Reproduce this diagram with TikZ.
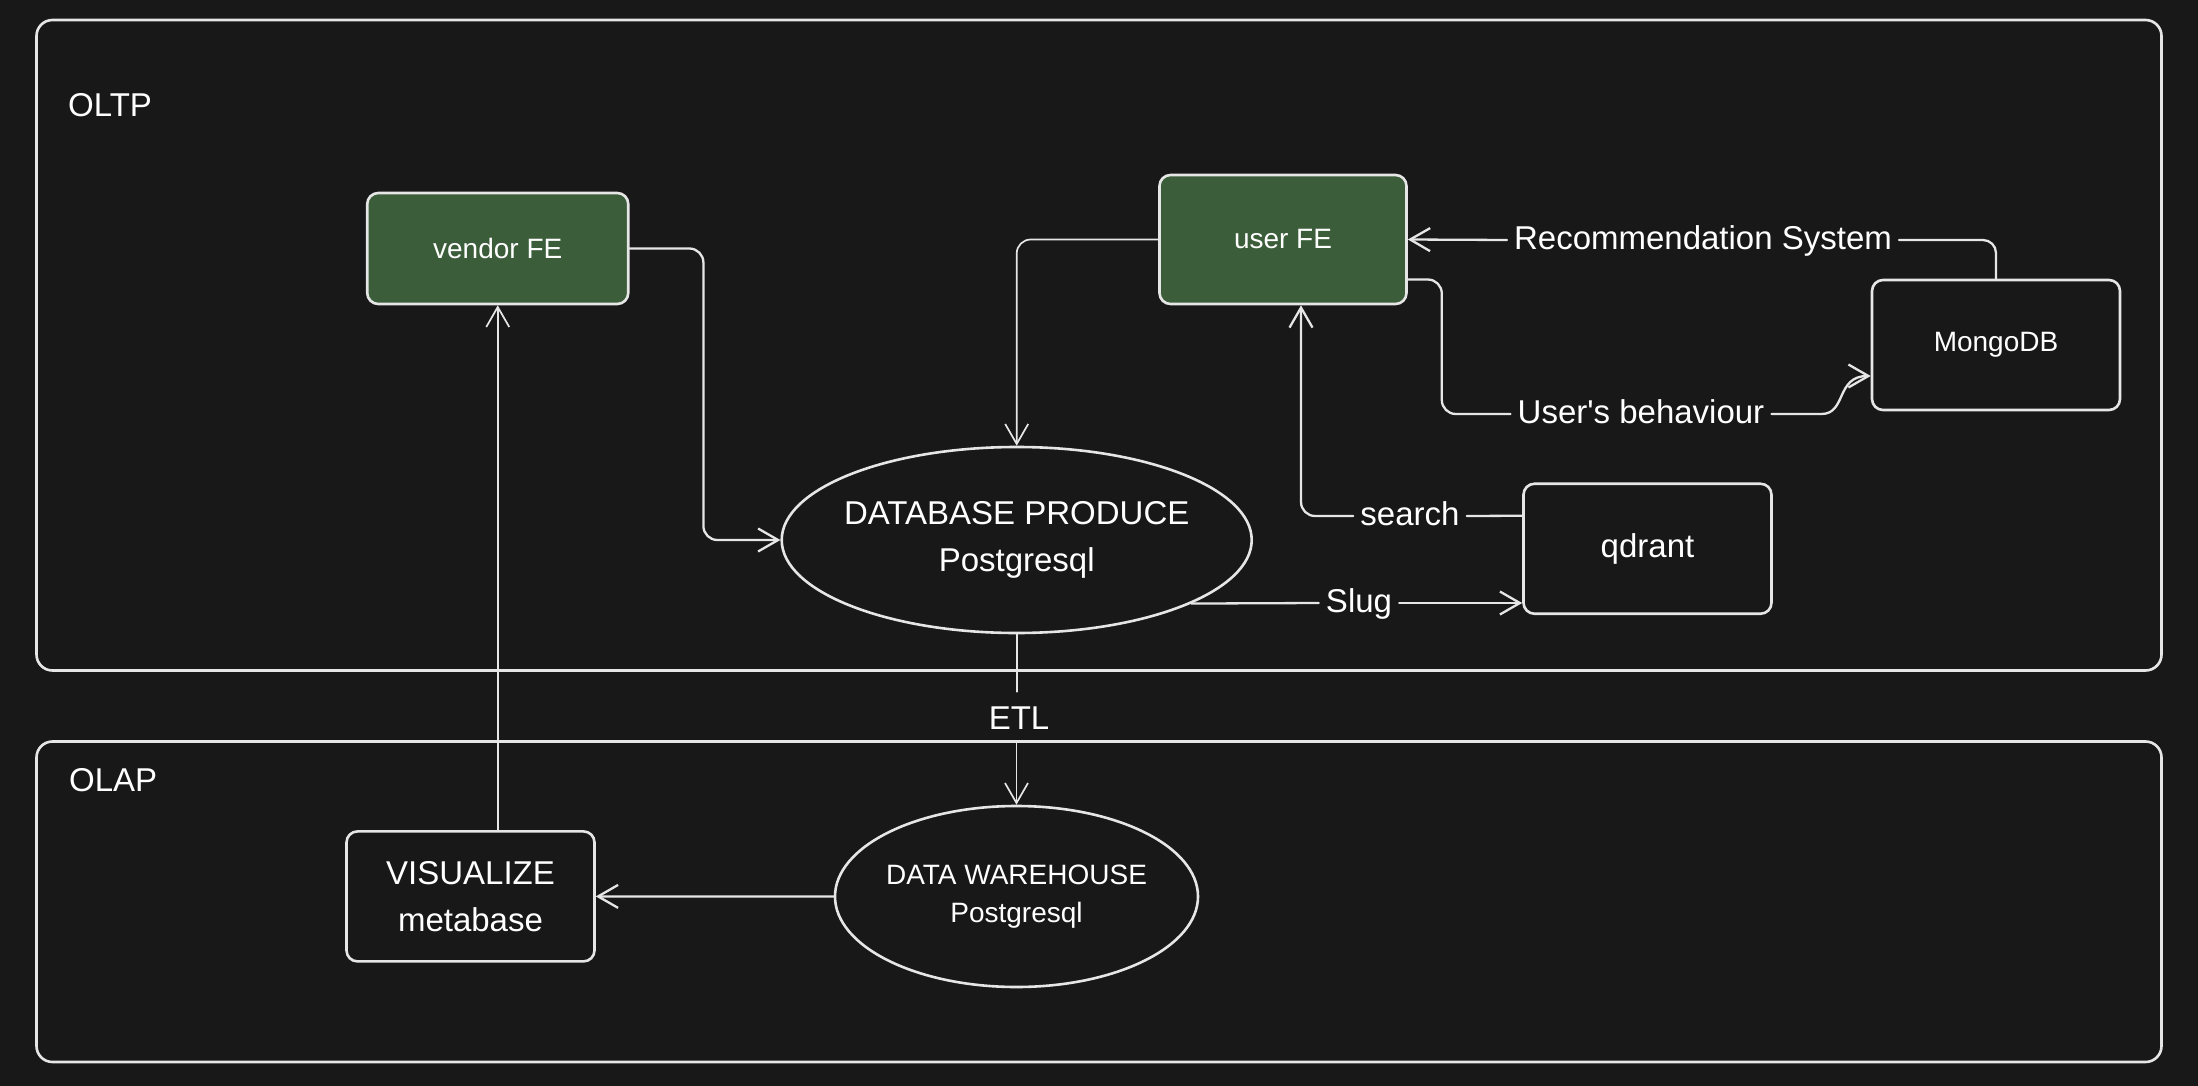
\documentclass[tikz,border=0pt]{standalone}
\usepackage{fontspec}
\setmainfont{Liberation Sans}
\usetikzlibrary{shapes.geometric,arrows.meta}
\definecolor{bgc}{HTML}{181818}
\definecolor{ink}{HTML}{E6E6E6}
\definecolor{grn}{RGB}{59,93,57}
\begin{document}
\begin{tikzpicture}[x=1pt,y=-1pt,
  big/.style={font=\fontsize{33}{47}\selectfont},
  small/.style={font=\fontsize{28}{38}\selectfont},
  frame/.style={draw=ink, line width=2.6pt, rounded corners=16pt, rectangle, inner sep=0pt},
  box/.style={draw=ink, line width=2.6pt, rounded corners=11pt, rectangle, inner sep=0pt, text=white, minimum height=130pt, minimum width=248pt},
  fe/.style={box, fill=grn},
  oval/.style={draw=ink, line width=2.6pt, ellipse, inner sep=0pt},
  lbl/.style={big, text=white, inner xsep=7pt, inner ysep=2pt, text height=18pt, text depth=0pt},
  line/.style={draw=ink, line width=2.3pt, line cap=round, line join=round},
  thin/.style={line width=1.7pt},
  arr/.style={line, -{Straight Barb[length=20pt,width=23pt]}},
]
\useasboundingbox (0,0) rectangle (2198,1086);
\fill[bgc] (0,0) rectangle (2198,1086);

% frames
\node[frame, minimum width=2125pt, minimum height=650.5pt] (oltp) at (1099,345.25) {};
\node[frame, minimum width=2125pt, minimum height=320.5pt] (olap) at (1099,901.75) {};
\node[big, text=white, anchor=base west, inner sep=0pt] (oltpT) at (68,117) {OLTP};
\node[big, text=white, anchor=base west, inner sep=0pt] (olapT) at (69,791.7) {OLAP};

% nodes
\node[fe, small, minimum width=261pt, minimum height=111pt] (vendor) at (497.75,248.5) {vendor FE};
\node[fe, small, minimum width=247pt, minimum height=129pt] (user) at (1283,239.5) {user FE};
\node[box, small] (mongo) at (1996,345) {MongoDB};
\node[box, big] (qdrant) at (1647.5,548.75) {qdrant};
\node[box, big, align=center] (vis) at (470.5,896.4) {VISUALIZE\\metabase};
\node[oval, minimum width=470pt, minimum height=186pt,
  label={[big, text=white, align=center]center:{DATABASE PRODUCE\\Postgresql}}] (db) at (1016.7,540) {};
\node[oval, minimum width=363pt, minimum height=181pt,
  label={[small, text=white, align=center]center:{DATA WAREHOUSE\\Postgresql}}] (dw) at (1016.5,896.5) {};

% connector labels
\node[lbl] (rec) at (1703,240) {Recommendation System};
\node[lbl] (beh) at (1641,414) {User\textquotesingle{}s behaviour};
\node[lbl] (search) at (1410,516) {search};
\node[lbl] (slug) at (1359,603) {Slug};
\node[big, text=white, inner xsep=4pt, inner ysep=13pt, text height=24pt, text depth=0pt] (etl) at (1019,717) {ETL};

% connectors
\draw[arr, rounded corners=14pt] (vendor.east) -| ([xshift=-77pt]db.west) -- (db.west);
\draw[arr, thin, rounded corners=14pt] (user.west) -| (db.north);
\draw[line, rounded corners=13pt] (mongo.north) |- (rec.east);
\draw[arr] (rec.west) -- (user.east);
\draw[line, rounded corners=14pt] ([yshift=-40pt]user.east) -- ++(34,0) |- (beh.west);
\draw[arr] (beh.east) -- ++(50,0) .. controls +(25,0) and +(-35,0) .. ([yshift=-31pt]mongo.west);
\draw[line] ([yshift=33pt]qdrant.west) -- (search.east);
\draw[arr, rounded corners=14pt] (search.west) -| ([xshift=18pt]user.south);
\draw[line] (db.-20) -- (slug.west);
\draw[arr] (slug.east) -- (slug.east -| qdrant.west);
\draw[line, thin] (db.south) -- (db.south |- etl.north);
\draw[arr, thin] (dw.north |- etl.south) -- (dw.north);
\draw[arr] (dw.west) -- (vis.east);
\draw[arr, thin] (vendor.south |- vis.north) -- (vendor.south);
\end{tikzpicture}
\end{document}
